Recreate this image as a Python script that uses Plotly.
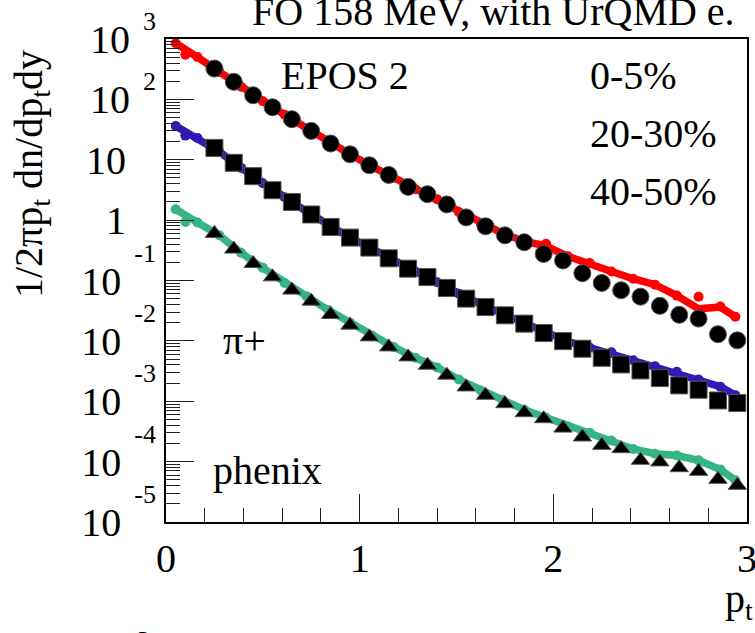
import plotly.graph_objects as go

# ---------------- data ----------------
# PHENIX pi+ data (black markers)
phenix_pt = [0.25, 0.35, 0.45, 0.55, 0.65, 0.75, 0.85, 0.95, 1.05, 1.15, 1.25, 1.35, 1.45, 1.55,
             1.65, 1.75, 1.85, 1.95, 2.05, 2.15, 2.25, 2.35, 2.45, 2.55, 2.65, 2.75, 2.85, 2.95]
phenix_0_5 = [324, 195, 117, 74, 47, 30, 18.6, 12.3, 8.1, 5.6, 3.55, 2.69, 1.82, 1.11,
              0.79, 0.56, 0.43, 0.275, 0.214, 0.132, 0.091, 0.069, 0.054, 0.038,
              0.027, 0.0234, 0.0129, 0.0102]
phenix_20_30 = [15.7, 8.9, 5.35, 3.13, 2.0, 1.24, 0.77, 0.514, 0.351, 0.233, 0.157, 0.114,
                0.0752, 0.0501, 0.0363, 0.0265, 0.0193, 0.0135, 0.0099, 0.00741, 0.00525,
                0.00407, 0.00324, 0.00242, 0.00183, 0.00155, 0.00103, 0.000933]
phenix_40_50 = [0.603, 0.331, 0.191, 0.115, 0.0693, 0.0455, 0.0273, 0.0182, 0.01164,
                0.00794, 0.00543, 0.00395, 0.0027, 0.001726, 0.001256, 0.000912,
                0.000647, 0.000514, 0.000359, 0.000256, 0.000186, 0.000164, 0.0001052,
                0.0000989, 0.0000793, 0.000069, 0.0000509, 0.0000405]

# EPOS 2 model (coloured curves and points)
model_pt = [0.05, 0.10, 0.1625, 0.275, 0.3875, 0.5, 0.6125, 0.725, 0.8375, 0.95, 1.0625,
            1.175, 1.2875, 1.4, 1.5125, 1.625, 1.7375, 1.85, 1.9625, 2.075, 2.1875, 2.3,
            2.4125, 2.525, 2.6375, 2.75, 2.8625, 2.94]
epos_line_0_5 = [851, 692, 501, 285, 162, 93.3, 55.6, 33.5, 19.5, 12.3, 7.76, 5.01, 3.24,
                 2.21, 1.35, 0.871, 0.603, 0.447, 0.372, 0.251, 0.182, 0.141, 0.107,
                 0.0851, 0.0562, 0.0339, 0.0363, 0.0251]
epos_pts_0_5 = [851, 550, 501, 285, 162, 93.3, 55.6, 33.5, 19.5, 12.3, 7.76, 5.01, 3.24,
                2.21, 1.35, 0.871, 0.603, 0.447, 0.407, 0.251, 0.195, 0.141, 0.107,
                0.0851, 0.0562, 0.0537, 0.0372, 0.0251]
epos_line_20_30 = [36.3, 28.8, 22.9, 13.6, 7.33, 4.07, 2.40, 1.40, 0.813, 0.513, 0.339,
                   0.214, 0.141, 0.0933, 0.0603, 0.0407, 0.0282, 0.0200, 0.0138, 0.00977,
                   0.00776, 0.00603, 0.00457, 0.00363, 0.00288, 0.00229, 0.00174, 0.00126]
epos_pts_20_30 = [36.3, 25.1, 22.9, 13.6, 7.33, 4.07, 2.40, 1.40, 0.813, 0.513, 0.339,
                  0.214, 0.141, 0.0933, 0.0603, 0.0407, 0.0282, 0.0200, 0.0138, 0.00977,
                  0.00776, 0.00646, 0.00479, 0.0038, 0.00309, 0.00229, 0.00174, 0.00126]
epos_line_40_50 = [1.51, 1.17, 0.912, 0.562, 0.288, 0.162, 0.0912, 0.0550, 0.0324, 0.0200,
                   0.0123, 0.00794, 0.00525, 0.00363, 0.00229, 0.00151, 0.00105, 0.000724,
                   0.000537, 0.00038, 0.000302, 0.000224, 0.000162, 0.000135, 0.000126,
                   0.000105, 0.0000741, 0.000049]
epos_pts_40_50 = [1.51, 0.933, 0.912, 0.562, 0.288, 0.162, 0.0912, 0.0550, 0.0324, 0.0200,
                  0.0123, 0.00794, 0.00525, 0.00363, 0.00229, 0.00151, 0.00105, 0.000724,
                  0.000537, 0.00038, 0.000302, 0.000224, 0.000162, 0.000135, 0.000126,
                  0.000105, 0.0000741, 0.000049]

# axis ticks
x_tickvals = [0, 1, 2, 3]
y_tickvals = [1e-5, 1e-4, 1e-3, 1e-2, 1e-1, 1, 10, 100, 1000]
y_tick_exponents = ["-5", "-4", "-3", "-2", "-1", "", "", "2", "3"]
y_tick_bases = ["10", "10", "10", "10", "10", "1", "10", "10", "10"]

centralities = ["0-5%", "20-30%", "40-50%"]

# ---------------- figure ----------------
FONT = "Liberation Serif, Times New Roman, serif"
RED, BLUE, GREEN = "#ff0000", "#3318b5", "#34b583"


def tick_label(base, exp):
    if not exp:
        return base + "&nbsp;&nbsp;&nbsp;"
    neg = exp.startswith("-")
    shift = 33 if neg else 23
    pad = "&nbsp;&nbsp;"
    return (base + "<span style='font-size:26px;baseline-shift:%dpx'>%s%s</span>"
            % (shift, pad, exp))


y_ticktext = [tick_label(b, e) for b, e in zip(y_tick_bases, y_tick_exponents)]

fig = go.Figure()
series = [
    (epos_line_0_5, epos_pts_0_5, phenix_0_5, RED, "circle", 17),
    (epos_line_20_30, epos_pts_20_30, phenix_20_30, BLUE, "square", 17),
    (epos_line_40_50, epos_pts_40_50, phenix_40_50, GREEN, "triangle-up", 16),
]
for line_y, pts_y, data_y, col, sym, msize in series:
    fig.add_trace(go.Scatter(x=model_pt, y=line_y, mode="lines",
                             line=dict(color=col, width=7.5), showlegend=False))
    fig.add_trace(go.Scatter(x=model_pt, y=pts_y, mode="markers",
                             marker=dict(color=col, size=10), showlegend=False))
for line_y, pts_y, data_y, col, sym, msize in series:
    fig.add_trace(go.Scatter(x=phenix_pt, y=data_y, mode="markers",
                             marker=dict(color="black", symbol=sym, size=msize,
                                         line=dict(color="#555", width=1)),
                             showlegend=False))

W, H = 755, 633
ML, MR, MT, MB = 166, 8, 39, 111
PW, PH = W - ML - MR, H - MT - MB


def px(xp):
    return (xp - ML) / PW


def py(yp):
    return (H - MB - yp) / PH


annots = [
    dict(text="FO 158 MeV, with UrQMD e.", x=px(250), y=py(-13), xanchor="left", yanchor="top", size=40),
    dict(text="EPOS 2", x=px(279), y=py(75), xanchor="left", yanchor="middle", size=40),
    dict(text=centralities[0], x=px(588), y=py(75), xanchor="left", yanchor="middle", size=40),
    dict(text=centralities[1], x=px(588), y=py(133), xanchor="left", yanchor="middle", size=40),
    dict(text=centralities[2], x=px(588), y=py(191), xanchor="left", yanchor="middle", size=40),
    dict(text="π+", x=px(221), y=py(341), xanchor="left", yanchor="middle", size=40),
    dict(text="phenix", x=px(211), y=py(470), xanchor="left", yanchor="middle", size=40),
    dict(text="p<sub>t</sub>", x=px(755), y=py(628), xanchor="right", yanchor="bottom", size=40),
    dict(text="3", x=px(143), y=py(624), xanchor="center", yanchor="top", size=26),
]
for a in annots:
    fig.add_annotation(text=a["text"], x=a["x"], y=a["y"], xref="paper", yref="paper",
                       xanchor=a["xanchor"], yanchor=a["yanchor"], showarrow=False,
                       font=dict(family=FONT, size=a["size"], color="black"))

fig.add_annotation(text="1/2πp<sub>t</sub> dn/dp<sub>t</sub>dy", x=px(31), y=py(174),
                   xref="paper", yref="paper", xanchor="center", yanchor="middle",
                   textangle=-90, showarrow=False,
                   font=dict(family=FONT, size=40, color="black"))

fig.update_layout(
    width=W, height=H,
    margin=dict(l=ML, r=MR, t=MT, b=MB, autoexpand=False),
    paper_bgcolor="white", plot_bgcolor="white",
    font=dict(family=FONT, color="black"),
    xaxis=dict(range=[0, 3], tickmode="array", tickvals=x_tickvals, automargin=False,
               ticklabeloverflow="allow",
               ticks="inside", ticklen=28, tickwidth=1, tickcolor="#222",
               minor=dict(dtick=0.2, tick0=0, ticks="inside", ticklen=14, tickwidth=1,
                          tickcolor="#222", showgrid=False),
               showline=True, linewidth=2, linecolor="black", mirror=True,
               showgrid=False, zeroline=False,
               tickfont=dict(family=FONT, size=40)),
    yaxis=dict(type="log", range=[-5, 3], tickmode="array", tickvals=y_tickvals,
               ticktext=y_ticktext, automargin=False, ticklabeloverflow="allow",
               ticks="inside", ticklen=28, tickwidth=1, tickcolor="#222",
               minor=dict(dtick="D1", ticks="inside", ticklen=14, tickwidth=1,
                          tickcolor="#222", showgrid=False),
               showline=True, linewidth=2, linecolor="black", mirror=True,
               showgrid=False, zeroline=False,
               tickfont=dict(family=FONT, size=40)),
)

fig.write_html("out.html")
